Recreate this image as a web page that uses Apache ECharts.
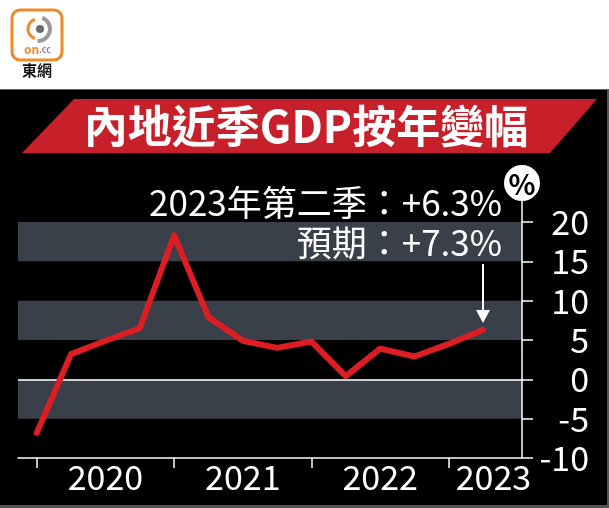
<!DOCTYPE html>
<html><head><meta charset="utf-8">
<script src="https://cdn.jsdelivr.net/npm/echarts@6/dist/echarts.min.js"></script>
<style>html,body{margin:0;padding:0;background:#fff}#c{width:609px;height:508px}</style>
</head><body><div id="c"></div>
<script>
// ---- data ----
const quarters = ['2020Q1','2020Q2','2020Q3','2020Q4','2021Q1','2021Q2','2021Q3','2021Q4','2022Q1','2022Q2','2022Q3','2022Q4','2023Q1','2023Q2'];
const gdpYoY = [-6.8, 3.2, 4.9, 6.5, 18.3, 7.9, 4.9, 4.0, 4.8, 0.4, 3.9, 2.9, 4.5, 6.3];
const yearLabels = ['2020','2021','2022','2023'];
const yearStartIndex = [0, 4, 8, 12];
const yMin = -10, yMax = 20, yStep = 5;
const titleText = '內地近季GDP按年變幅';
const noteLine1 = '2023年第二季：+6.3%';
const noteLine2 = '預期：+7.3%';

const FONT = '"Noto Sans CJK TC","Noto Sans",sans-serif';
const lastIdx = gdpYoY.length - 1;
const labelPos = yearStartIndex.map(s => Math.min(s + 2, lastIdx + 0.3));

const chart = echarts.init(document.getElementById('c'));
chart.setOption({
  backgroundColor: '#000',
  animation: false,
  grid: { left: 18, right: 87, top: 222, bottom: 50 },
  xAxis: {
    type: 'value', min: -0.545, max: 14.13,
    splitLine: { show: false },
    axisLine: { show: true, onZero: false, lineStyle: { color: '#fff', width: 1.5 } },
    axisTick: { show: true, customValues: yearStartIndex, length: 10, inside: false, lineStyle: { color: '#fff', width: 1.5 } },
    axisLabel: {
      customValues: labelPos, color: '#fff', fontSize: 34, fontFamily: FONT, margin: 2,
      formatter: v => { const k = labelPos.findIndex(p => Math.abs(p - v) < 1e-6); return k >= 0 ? yearLabels[k] : ''; }
    }
  },
  yAxis: {
    type: 'value', position: 'right', min: yMin, max: yMax, interval: yStep,
    axisLine: { show: true, onZero: false, lineStyle: { color: '#fff', width: 1.5 } },
    axisTick: { show: true, length: 11, inside: false, lineStyle: { color: '#fff', width: 1.5 } },
    axisLabel: { color: '#fff', fontSize: 34, fontFamily: FONT, align: 'right', margin: 67 },
    splitLine: { show: false },
    splitArea: { show: true, areaStyle: { color: ['rgba(0,0,0,0)', '#3a4049'] } }
  },
  series: [{
    type: 'line',
    data: gdpYoY.map((v, i) => [i, v]),
    symbol: 'none',
    lineStyle: { color: '#dc1e24', width: 6, cap: 'round', join: 'round' },
    z: 5,
    markLine: {
      silent: true, symbol: 'none', label: { show: false },
      lineStyle: { color: '#fff', width: 1.5, type: 'solid' },
      data: [{ yAxis: 0 }]
    }
  }],
  graphic: [
    { type: 'rect', shape: { x: 0, y: 0, width: 609, height: 89 }, style: { fill: '#fff' }, z: 1 },
    { type: 'line', shape: { x1: 0, y1: 89.5, x2: 609, y2: 89.5 }, style: { stroke: '#666', lineWidth: 1 }, z: 1 },
    { type: 'rect', shape: { x: 0, y: 505, width: 609, height: 3 }, style: { fill: '#555' }, z: 1 },
    { type: 'rect', shape: { x: 607, y: 89, width: 2, height: 419 }, style: { fill: '#555' }, z: 1 },
    // logo
    { type: 'rect', shape: { x: 12, y: 10, width: 50, height: 50, r: 8 }, style: { fill: '#fff', stroke: '#ef8a2a', lineWidth: 3 }, z: 2 },
    { type: 'arc', shape: { cx: 38, cy: 29, r: 12, startAngle: -1.2, endAngle: 1.6 }, style: { stroke: '#9a9a9a', lineWidth: 4, fill: 'none' }, z: 3 },
    { type: 'arc', shape: { cx: 38, cy: 29, r: 10, startAngle: 1.9, endAngle: 4.4 }, style: { stroke: '#ef8a2a', lineWidth: 3, fill: 'none' }, z: 3 },
    { type: 'circle', shape: { cx: 40, cy: 29, r: 4 }, style: { fill: '#6b6b6b' }, z: 3 },
    { type: 'text', x: 24, y: 49, style: { text: 'on', fill: '#ef8a2a', font: 'bold 12px ' + FONT, textVerticalAlign: 'middle' }, z: 3 },
    { type: 'text', x: 39, y: 50, style: { text: '.cc', fill: '#888', font: 'bold 9px ' + FONT, textVerticalAlign: 'middle' }, z: 3 },
    { type: 'text', x: 37, y: 70, style: { text: '東網', fill: '#111', font: 'bold 15px ' + FONT, textAlign: 'center', textVerticalAlign: 'middle' }, z: 3 },
    // title banner
    { type: 'polygon', shape: { points: [[74, 99], [597, 99], [550, 153], [22, 153]] }, style: { fill: '#c8202a' }, z: 2 },
    { type: 'text', x: 306, y: 126, style: { text: titleText, fill: '#fff', font: 'bold 44px ' + FONT, textAlign: 'center', textVerticalAlign: 'middle' }, z: 3 },
    // % unit bubble
    { type: 'line', shape: { x1: 522, y1: 200, x2: 522, y2: 222 }, style: { stroke: '#fff', lineWidth: 1.5 }, z: 3 },
    { type: 'circle', shape: { cx: 522, cy: 183, r: 18 }, style: { fill: '#fff' }, z: 3 },
    { type: 'text', x: 522, y: 184, style: { text: '%', fill: '#000', font: 'bold 28px ' + FONT, textAlign: 'center', textVerticalAlign: 'middle' }, z: 4 },
    // annotation
    { type: 'text', x: 502, y: 203, style: { text: noteLine1, fill: '#fff', font: '35px ' + FONT, textAlign: 'right', textVerticalAlign: 'middle' }, z: 4 },
    { type: 'text', x: 502, y: 243, style: { text: noteLine2, fill: '#fff', font: '35px ' + FONT, textAlign: 'right', textVerticalAlign: 'middle' }, z: 4 },
    { type: 'line', shape: { x1: 483, y1: 264, x2: 483, y2: 314 }, style: { stroke: '#fff', lineWidth: 2 }, z: 4 },
    { type: 'polygon', shape: { points: [[476, 310], [490, 310], [483, 323]] }, style: { fill: '#fff' }, z: 4 }
  ]
});
</script></body></html>
